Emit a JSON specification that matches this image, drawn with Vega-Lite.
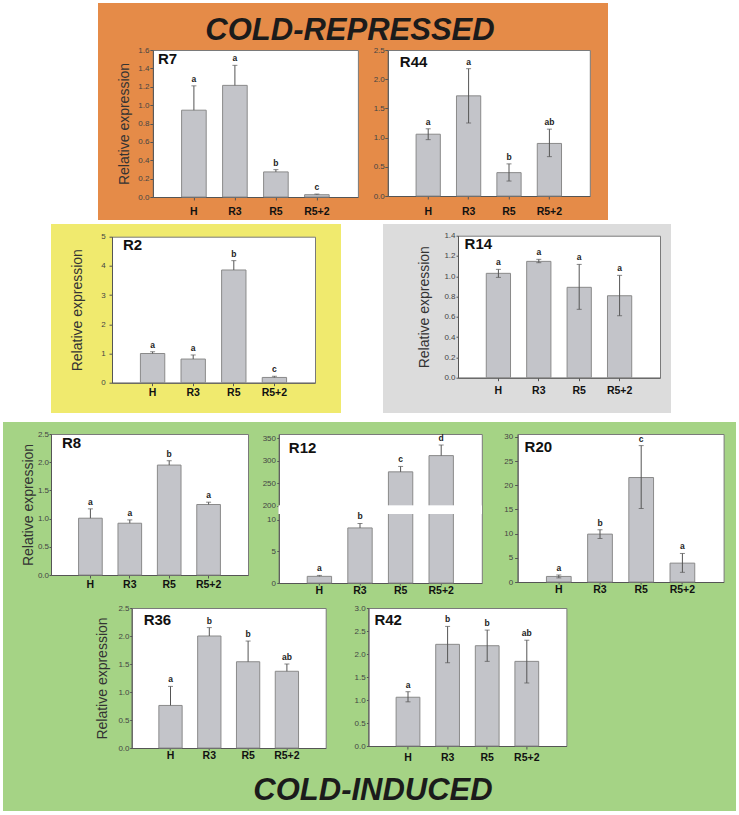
{
"$schema": "https://vega.github.io/schema/vega-lite/v6.json",
"background": "white",
"padding": {"left": 3, "top": 3, "right": 0, "bottom": 0},
"datasets": {"d": [
{"g":"R7","c":"H","v":0.945,"lo":0.945,"hi":1.21,"s":"a"},
{"g":"R7","c":"R3","v":1.215,"lo":1.215,"hi":1.433,"s":"a"},
{"g":"R7","c":"R5","v":0.273,"lo":0.273,"hi":0.298,"s":"b"},
{"g":"R7","c":"R5+2","v":0.025,"lo":0.025,"hi":0.032,"s":"c"},
{"g":"R44","c":"H","v":1.058,"lo":0.965,"hi":1.151,"s":"a"},
{"g":"R44","c":"R3","v":1.715,"lo":1.25,"hi":2.18,"s":"a"},
{"g":"R44","c":"R5","v":0.40,"lo":0.256,"hi":0.55,"s":"b"},
{"g":"R44","c":"R5+2","v":0.90,"lo":0.674,"hi":1.145,"s":"ab"},
{"g":"R2","c":"H","v":1.0,"lo":1.0,"hi":1.06,"s":"a"},
{"g":"R2","c":"R3","v":0.81,"lo":0.81,"hi":0.95,"s":"a"},
{"g":"R2","c":"R5","v":3.86,"lo":3.86,"hi":4.18,"s":"b"},
{"g":"R2","c":"R5+2","v":0.18,"lo":0.18,"hi":0.22,"s":"c"},
{"g":"R14","c":"H","v":1.029,"lo":0.989,"hi":1.068,"s":"a"},
{"g":"R14","c":"R3","v":1.147,"lo":1.134,"hi":1.167,"s":"a"},
{"g":"R14","c":"R5","v":0.891,"lo":0.674,"hi":1.117,"s":"a"},
{"g":"R14","c":"R5+2","v":0.808,"lo":0.611,"hi":1.009,"s":"a"},
{"g":"R8","c":"H","v":1.007,"lo":1.007,"hi":1.173,"s":"a"},
{"g":"R8","c":"R3","v":0.918,"lo":0.918,"hi":0.977,"s":"a"},
{"g":"R8","c":"R5","v":1.949,"lo":1.949,"hi":2.026,"s":"b"},
{"g":"R8","c":"R5+2","v":1.25,"lo":1.25,"hi":1.291,"s":"a"},
{"g":"R12","c":"H","v":1.05,"lo":1.05,"hi":1.2,"s":"a"},
{"g":"R12","c":"R3","v":8.7,"lo":8.7,"hi":9.4,"s":"b"},
{"g":"R12","c":"R5","v":275,"lo":275,"hi":287,"s":"c"},
{"g":"R12","c":"R5+2","v":311,"lo":311,"hi":334.5,"s":"d"},
{"g":"R20","c":"H","v":1.15,"lo":0.85,"hi":1.45,"s":"a"},
{"g":"R20","c":"R3","v":9.9,"lo":9.0,"hi":10.8,"s":"b"},
{"g":"R20","c":"R5","v":21.6,"lo":15.2,"hi":28.2,"s":"c"},
{"g":"R20","c":"R5+2","v":3.9,"lo":2.0,"hi":5.9,"s":"a"},
{"g":"R36","c":"H","v":0.76,"lo":0.76,"hi":1.10,"s":"a"},
{"g":"R36","c":"R3","v":2.0,"lo":2.0,"hi":2.15,"s":"b"},
{"g":"R36","c":"R5","v":1.54,"lo":1.54,"hi":1.91,"s":"b"},
{"g":"R36","c":"R5+2","v":1.37,"lo":1.37,"hi":1.50,"s":"ab"},
{"g":"R42","c":"H","v":1.06,"lo":0.96,"hi":1.18,"s":"a"},
{"g":"R42","c":"R3","v":2.21,"lo":1.81,"hi":2.60,"s":"b"},
{"g":"R42","c":"R5","v":2.18,"lo":1.84,"hi":2.52,"s":"b"},
{"g":"R42","c":"R5+2","v":1.84,"lo":1.37,"hi":2.30,"s":"ab"}
]},
"spacing": 4,
"vconcat": [
 {"spacing": 0, "hconcat": [
  {"width": 95, "height": 1, "data": {"values": []}, "mark": "point", "encoding": {}, "view": {"stroke": null}},
  {"bounds": "flush", "spacing": 47, "vconcat": [
   {"hconcat": [{"width": 510, "height": 217, "data": {"values": [{}]}, "view": {"fill": "#e58b48", "stroke": null},
     "mark": {"type": "text", "text": "COLD-REPRESSED", "fontSize": 31, "fontStyle": "italic", "fontWeight": "bold", "color": "#1b1b1b", "align": "center", "baseline": "alphabetic", "dx": -3, "dy": -71.5}, "encoding": {}}]},
   {"spacing": 12.9, "hconcat": [
    {"width": 6, "height": 1, "data": {"values": []}, "mark": "point", "encoding": {}, "view": {"stroke": null}},
    {"width": 205, "height": 147, "view": {"fill": "white", "stroke": "#7a7a7a"},
     "title": {"text": "R7", "offset": -21, "dx": 5},
     "data": {"name": "d"}, "transform": [{"filter": "datum.g === 'R7'"}],
     "encoding": {"x": {"field": "c", "type": "nominal", "sort": ["H","R3","R5","R5+2"], "scale": {"paddingInner": 0.4, "paddingOuter": 0.7}, "axis": {"title": null, "tickSize": 3, "labelPadding": 6}}},
     "layer": [
      {"mark": "bar", "encoding": {"y": {"field": "v", "type": "quantitative", "title": "Relative expression", "scale": {"domain": [0, 1.6], "nice": false, "zero": false}, "axis": {"values": [0,0.2,0.4,0.6,0.8,1.0,1.2,1.4,1.6], "tickCount": 30, "format": ".1f", "tickSize": 3, "labelPadding": 1, "titlePadding": 6}}}},
      {"mark": "rule", "encoding": {"y": {"field": "lo", "type": "quantitative", "title": "Relative expression"}, "y2": {"field": "hi"}}},
      {"mark": {"type": "tick", "size": 5}, "encoding": {"y": {"field": "hi", "type": "quantitative", "title": "Relative expression"}}},
      {"transform": [{"filter": "datum.lo < datum.v"}], "mark": {"type": "tick", "size": 5}, "encoding": {"y": {"field": "lo", "type": "quantitative", "title": "Relative expression"}}},
      {"mark": "text", "encoding": {"y": {"field": "hi", "type": "quantitative", "title": "Relative expression"}, "text": {"field": "s"}}}
     ]},
    {"width": 202, "height": 146, "view": {"fill": "white", "stroke": "#7a7a7a"},
     "title": {"text": "R44", "offset": -24, "dx": 12},
     "data": {"name": "d"}, "transform": [{"filter": "datum.g === 'R44'"}],
     "encoding": {"x": {"field": "c", "type": "nominal", "sort": ["H","R3","R5","R5+2"], "scale": {"paddingInner": 0.4, "paddingOuter": 0.7}, "axis": {"title": null, "tickSize": 3, "labelPadding": 7}}},
     "layer": [
      {"mark": "bar", "encoding": {"y": {"field": "v", "type": "quantitative", "title": null, "scale": {"domain": [0, 2.5], "nice": false, "zero": false}, "axis": {"values": [0,0.5,1.0,1.5,2.0,2.5], "tickCount": 30, "format": ".1f", "tickSize": 3, "labelPadding": 0.5}}}},
      {"mark": "rule", "encoding": {"y": {"field": "lo", "type": "quantitative", "title": null}, "y2": {"field": "hi"}}},
      {"mark": {"type": "tick", "size": 5}, "encoding": {"y": {"field": "hi", "type": "quantitative", "title": null}}},
      {"transform": [{"filter": "datum.lo < datum.v"}], "mark": {"type": "tick", "size": 5}, "encoding": {"y": {"field": "lo", "type": "quantitative", "title": null}}},
      {"mark": "text", "encoding": {"y": {"field": "hi", "type": "quantitative", "title": null}, "text": {"field": "s"}}}
     ]}
   ]}
  ]}
 ]},
 {"spacing": 9, "vconcat": [
  {"spacing": 42, "hconcat": [
   {"width": 6, "height": 1, "data": {"values": []}, "mark": "point", "encoding": {}, "view": {"stroke": null}},
   {"bounds": "flush", "spacing": 12.7, "vconcat": [
    {"hconcat": [{"width": 290, "height": 189, "data": {"values": []}, "mark": "point", "encoding": {}, "view": {"fill": "#f0ea6e", "stroke": null}}]},
    {"spacing": 10, "hconcat": [
     {"width": 8, "height": 1, "data": {"values": []}, "mark": "point", "encoding": {}, "view": {"stroke": null}},
     {"width": 203, "height": 146, "view": {"fill": "white", "stroke": "#7a7a7a"},
      "title": {"text": "R2", "offset": -20.3, "dx": 11},
      "data": {"name": "d"}, "transform": [{"filter": "datum.g === 'R2'"}],
      "encoding": {"x": {"field": "c", "type": "nominal", "sort": ["H","R3","R5","R5+2"], "scale": {"paddingInner": 0.4, "paddingOuter": 0.7}, "axis": {"title": null, "tickSize": 3, "labelPadding": 1.5}}},
      "layer": [
       {"mark": "bar", "encoding": {"y": {"field": "v", "type": "quantitative", "title": "Relative expression", "scale": {"domain": [0, 5], "nice": false, "zero": false}, "axis": {"values": [0,1,2,3,4,5], "tickCount": 30, "format": "d", "tickSize": 3, "labelPadding": 3.7, "titlePadding": 16.5}}}},
       {"mark": "rule", "encoding": {"y": {"field": "lo", "type": "quantitative", "title": "Relative expression"}, "y2": {"field": "hi"}}},
       {"mark": {"type": "tick", "size": 5}, "encoding": {"y": {"field": "hi", "type": "quantitative", "title": "Relative expression"}}},
       {"transform": [{"filter": "datum.lo < datum.v"}], "mark": {"type": "tick", "size": 5}, "encoding": {"y": {"field": "lo", "type": "quantitative", "title": "Relative expression"}}},
       {"mark": "text", "encoding": {"y": {"field": "hi", "type": "quantitative", "title": "Relative expression"}, "text": {"field": "s"}}}
      ]}
    ]}
   ]},
   {"bounds": "flush", "spacing": 11.7, "vconcat": [
    {"hconcat": [{"width": 288, "height": 189, "data": {"values": []}, "mark": "point", "encoding": {}, "view": {"fill": "#dcdcdc", "stroke": null}}]},
    {"spacing": 10, "hconcat": [
     {"width": 23.6, "height": 1, "data": {"values": []}, "mark": "point", "encoding": {}, "view": {"stroke": null}},
     {"width": 202, "height": 142, "view": {"fill": "white", "stroke": "#7a7a7a"},
      "title": {"text": "R14", "offset": -20, "dx": 6.6},
      "data": {"name": "d"}, "transform": [{"filter": "datum.g === 'R14'"}],
      "encoding": {"x": {"field": "c", "type": "nominal", "sort": ["H","R3","R5","R5+2"], "scale": {"paddingInner": 0.4, "paddingOuter": 0.7}, "axis": {"title": null, "tickSize": 3, "labelPadding": 4.5}}},
      "layer": [
       {"mark": "bar", "encoding": {"y": {"field": "v", "type": "quantitative", "title": "Relative expression", "scale": {"domain": [0, 1.4], "nice": false, "zero": false}, "axis": {"values": [0,0.2,0.4,0.6,0.8,1.0,1.2,1.4], "tickCount": 30, "format": ".1f", "tickSize": 2, "labelPadding": 1, "titlePadding": 12}}}},
       {"mark": "rule", "encoding": {"y": {"field": "lo", "type": "quantitative", "title": "Relative expression"}, "y2": {"field": "hi"}}},
       {"mark": {"type": "tick", "size": 5}, "encoding": {"y": {"field": "hi", "type": "quantitative", "title": "Relative expression"}}},
       {"transform": [{"filter": "datum.lo < datum.v"}], "mark": {"type": "tick", "size": 5}, "encoding": {"y": {"field": "lo", "type": "quantitative", "title": "Relative expression"}}},
       {"mark": "text", "encoding": {"y": {"field": "hi", "type": "quantitative", "title": "Relative expression"}, "text": {"field": "s"}}}
      ]}
    ]}
   ]}
  ]},
  {"bounds": "flush", "spacing": 12, "vconcat": [
   {"hconcat": [{"width": 733, "height": 389, "data": {"values": [{}]}, "view": {"fill": "#a5d385", "stroke": null},
     "mark": {"type": "text", "text": "COLD-INDUCED", "fontSize": 31, "fontStyle": "italic", "fontWeight": "bold", "color": "#1b1b1b", "align": "center", "baseline": "alphabetic", "dx": 3.5, "dy": 183.5}, "encoding": {}}]},
   {"spacing": 10, "hconcat": [
    {"width": 6.4, "height": 1, "data": {"values": []}, "mark": "point", "encoding": {}, "view": {"stroke": null}},
    {"spacing": 7, "vconcat": [
     {"spacing": 19.6, "hconcat": [
      {"spacing": 11.8, "hconcat": [
       {"width": 197, "height": 141, "view": {"fill": "white", "stroke": "#7a7a7a"},
        "title": {"text": "R8", "offset": -21, "dx": 11},
        "data": {"name": "d"}, "transform": [{"filter": "datum.g === 'R8'"}],
        "encoding": {"x": {"field": "c", "type": "nominal", "sort": ["H","R3","R5","R5+2"], "scale": {"paddingInner": 0.4, "paddingOuter": 0.7}, "axis": {"title": null, "tickSize": 3, "labelPadding": 1.2}}},
        "layer": [
         {"mark": "bar", "encoding": {"y": {"field": "v", "type": "quantitative", "title": "Relative expression", "scale": {"domain": [0, 2.5], "nice": false, "zero": false}, "axis": {"values": [0,0.5,1.0,1.5,2.0,2.5], "tickCount": 30, "format": ".1f", "tickSize": 2, "labelPadding": 0.5, "titlePadding": 2}}}},
         {"mark": "rule", "encoding": {"y": {"field": "lo", "type": "quantitative", "title": "Relative expression"}, "y2": {"field": "hi"}}},
         {"mark": {"type": "tick", "size": 5}, "encoding": {"y": {"field": "hi", "type": "quantitative", "title": "Relative expression"}}},
         {"transform": [{"filter": "datum.lo < datum.v"}], "mark": {"type": "tick", "size": 5}, "encoding": {"y": {"field": "lo", "type": "quantitative", "title": "Relative expression"}}},
         {"mark": "text", "encoding": {"y": {"field": "hi", "type": "quantitative", "title": "Relative expression"}, "text": {"field": "s"}}}
        ]},
       {"width": 203, "height": 149, "view": {"fill": "white", "stroke": "#7a7a7a"},
        "title": {"text": "R12", "offset": -21.7, "dx": 10},
        "data": {"name": "d"}, "transform": [{"filter": "datum.g === 'R12'"}],
        "layer": [
         {"mark": "bar", "encoding": {
           "x": {"field": "c", "type": "nominal", "sort": ["H","R3","R5","R5+2"], "scale": {"paddingInner": 0.4, "paddingOuter": 0.7}, "axis": {"title": null, "tickSize": 2, "labelPadding": 0}},
           "y": {"field": "v", "type": "quantitative", "title": null, "scale": {"domain": [0, 10.9, 200, 358.9], "range": [149, 80, 71.7, 0], "nice": false, "zero": false}, "axis": {"values": [0,5,10,200,250,300,350], "tickCount": 30, "format": "d", "tickSize": 2, "labelPadding": 1.3}}}},
         {"mark": {"type": "rect", "fill": "white"}, "encoding": {"y": {"datum": 10.9, "type": "quantitative", "title": null}, "y2": {"datum": 200}}},
         {"mark": "rule", "encoding": {"x": {"field": "c", "type": "nominal", "sort": ["H","R3","R5","R5+2"], "title": null}, "y": {"field": "lo", "type": "quantitative", "title": null}, "y2": {"field": "hi"}}},
         {"mark": {"type": "tick", "size": 5}, "encoding": {"x": {"field": "c", "type": "nominal", "sort": ["H","R3","R5","R5+2"], "title": null}, "y": {"field": "hi", "type": "quantitative", "title": null}}},
         {"mark": "text", "encoding": {"x": {"field": "c", "type": "nominal", "sort": ["H","R3","R5","R5+2"], "title": null}, "y": {"field": "hi", "type": "quantitative", "title": null}, "text": {"field": "s"}}}
        ]}
      ]},
      {"width": 206, "height": 148, "view": {"fill": "white", "stroke": "#7a7a7a"},
       "title": {"text": "R20", "offset": -21.7, "dx": 7},
       "data": {"name": "d"}, "transform": [{"filter": "datum.g === 'R20'"}],
       "encoding": {"x": {"field": "c", "type": "nominal", "sort": ["H","R3","R5","R5+2"], "scale": {"paddingInner": 0.4, "paddingOuter": 0.7}, "axis": {"title": null, "tickSize": 2, "labelPadding": 0}}},
       "layer": [
        {"mark": "bar", "encoding": {"y": {"field": "v", "type": "quantitative", "title": null, "scale": {"domain": [0, 30.6], "nice": false, "zero": false}, "axis": {"values": [0,5,10,15,20,25,30], "tickCount": 30, "format": "d", "tickSize": 3, "labelPadding": 2}}}},
        {"mark": "rule", "encoding": {"y": {"field": "lo", "type": "quantitative", "title": null}, "y2": {"field": "hi"}}},
        {"mark": {"type": "tick", "size": 5}, "encoding": {"y": {"field": "hi", "type": "quantitative", "title": null}}},
        {"transform": [{"filter": "datum.lo < datum.v"}], "mark": {"type": "tick", "size": 5}, "encoding": {"y": {"field": "lo", "type": "quantitative", "title": null}}},
        {"mark": "text", "encoding": {"y": {"field": "hi", "type": "quantitative", "title": null}, "text": {"field": "s"}}}
       ]}
     ]},
     {"spacing": 26.7, "hconcat": [
      {"width": 16.2, "height": 1, "data": {"values": []}, "mark": "point", "encoding": {}, "view": {"stroke": null}},
      {"width": 194, "height": 140, "view": {"fill": "white", "stroke": "#7a7a7a"},
       "title": {"text": "R36", "offset": -24.2, "dx": 12},
       "data": {"name": "d"}, "transform": [{"filter": "datum.g === 'R36'"}],
       "encoding": {"x": {"field": "c", "type": "nominal", "sort": ["H","R3","R5","R5+2"], "scale": {"paddingInner": 0.4, "paddingOuter": 0.7}, "axis": {"title": null, "tickSize": 2, "labelPadding": 0.5}}},
       "layer": [
        {"mark": "bar", "encoding": {"y": {"field": "v", "type": "quantitative", "title": "Relative expression", "scale": {"domain": [0, 2.5], "nice": false, "zero": false}, "axis": {"values": [0,0.5,1.0,1.5,2.0,2.5], "tickCount": 30, "format": ".1f", "tickSize": 2, "labelPadding": 0.7, "titlePadding": 8}}}},
        {"mark": "rule", "encoding": {"y": {"field": "lo", "type": "quantitative", "title": "Relative expression"}, "y2": {"field": "hi"}}},
        {"mark": {"type": "tick", "size": 5}, "encoding": {"y": {"field": "hi", "type": "quantitative", "title": "Relative expression"}}},
        {"transform": [{"filter": "datum.lo < datum.v"}], "mark": {"type": "tick", "size": 5}, "encoding": {"y": {"field": "lo", "type": "quantitative", "title": "Relative expression"}}},
        {"mark": "text", "encoding": {"y": {"field": "hi", "type": "quantitative", "title": "Relative expression"}, "text": {"field": "s"}}}
       ]},
      {"width": 198, "height": 138, "view": {"fill": "white", "stroke": "#7a7a7a"},
       "title": {"text": "R42", "offset": -23.5, "dx": 6},
       "data": {"name": "d"}, "transform": [{"filter": "datum.g === 'R42'"}],
       "encoding": {"x": {"field": "c", "type": "nominal", "sort": ["H","R3","R5","R5+2"], "scale": {"paddingInner": 0.4, "paddingOuter": 0.7}, "axis": {"title": null, "tickSize": 3, "labelPadding": 3}}},
       "layer": [
        {"mark": "bar", "encoding": {"y": {"field": "v", "type": "quantitative", "title": null, "scale": {"domain": [0, 3], "nice": false, "zero": false}, "axis": {"values": [0,0.5,1.0,1.5,2.0,2.5,3.0], "tickCount": 30, "format": ".1f", "tickSize": 2, "labelPadding": 1.3}}}},
        {"mark": "rule", "encoding": {"y": {"field": "lo", "type": "quantitative", "title": null}, "y2": {"field": "hi"}}},
        {"mark": {"type": "tick", "size": 5}, "encoding": {"y": {"field": "hi", "type": "quantitative", "title": null}}},
        {"transform": [{"filter": "datum.lo < datum.v"}], "mark": {"type": "tick", "size": 5}, "encoding": {"y": {"field": "lo", "type": "quantitative", "title": null}}},
        {"mark": "text", "encoding": {"y": {"field": "hi", "type": "quantitative", "title": null}, "text": {"field": "s"}}}
       ]}
     ]}
    ]}
   ]}
  ]}
 ]}
],
"config": {
 "font": "Liberation Sans",
 "view": {"stroke": null},
 "axis": {"domainColor": "#555", "tickColor": "#555", "grid": false, "titleFontWeight": "normal", "titleColor": "#333", "titleFontSize": 14, "labelFont": "Liberation Sans", "titleFont": "Liberation Sans"},
 "axisX": {"labelAngle": 0, "labelFontSize": 10.5, "labelFontWeight": "bold", "labelColor": "#111"},
 "axisY": {"labelFontSize": 8, "labelColor": "#444", "labelOverlap": false},
 "bar": {"fill": "#c3c4c9", "stroke": "#8a8a8a", "strokeWidth": 1},
 "rule": {"color": "#555", "strokeWidth": 1},
 "tick": {"color": "#555", "thickness": 1},
 "text": {"fontWeight": "bold", "fontSize": 8.5, "baseline": "alphabetic", "dy": -4, "color": "#222"},
 "title": {"fontWeight": "bold", "fontSize": 15, "color": "#111", "anchor": "start", "frame": "group", "baseline": "alphabetic", "orient": "top"}
}
}
